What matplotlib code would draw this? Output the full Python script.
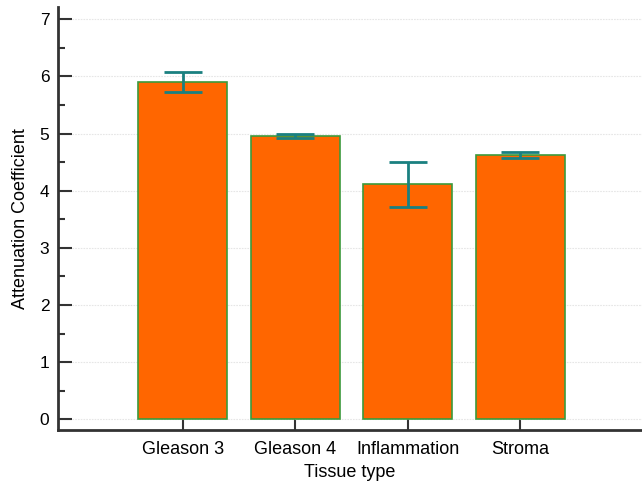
import matplotlib.pyplot as plt
import numpy as np

# Mean attenuation coefficient per tissue type with error
tissues = ['Gleason 3', 'Gleason 4', 'Inflammation', 'Stroma']
means = [5.90, 4.96, 4.11, 4.62]
errors = [0.18, 0.03, 0.39, 0.05]

plt.rcParams['font.family'] = ['Liberation Sans', 'DejaVu Sans']

fig = plt.figure(figsize=(6.42, 4.87), dpi=100)
ax = fig.add_axes([0.090, 0.117, 0.910, 0.869])

x = np.arange(len(tissues))
ax.bar(x, means, width=0.79, color='#ff6600', edgecolor='#3c9a3c',
       linewidth=1.2, zorder=2)
ax.errorbar(x, means, yerr=errors, fmt='none', ecolor='#1a8080',
            elinewidth=2, capsize=13.5, capthick=2, zorder=3)

ax.set_xlim(-1.11, 4.08)
ax.set_ylim(-0.19, 7.22)
ax.set_xticks(x)
ax.set_xticklabels(tissues)
ax.set_yticks(range(0, 8))
ax.set_yticks(np.arange(0.5, 7, 1), minor=True)

ax.yaxis.grid(True, color='#e6e6e6', linestyle=(0, (1.5, 1)), linewidth=0.8, zorder=0)
ax.set_axisbelow(True)

for side in ['top', 'right']:
    ax.spines[side].set_visible(False)
for side in ['left', 'bottom']:
    ax.spines[side].set_linewidth(2)
    ax.spines[side].set_color('#333333')

ax.tick_params(axis='both', which='major', direction='in', length=10,
               width=1.5, color='#333333', pad=6)
ax.tick_params(axis='y', which='minor', direction='in', length=5,
               width=1.5, color='#333333')
ax.tick_params(axis='y', labelsize=12.5)
ax.tick_params(axis='x', labelsize=13, pad=8)

ax.set_xlabel('Tissue type', fontsize=13, labelpad=4)
ax.set_ylabel('Attenuation Coefficient', fontsize=13, labelpad=8)

fig.savefig('out.png', dpi=100)
